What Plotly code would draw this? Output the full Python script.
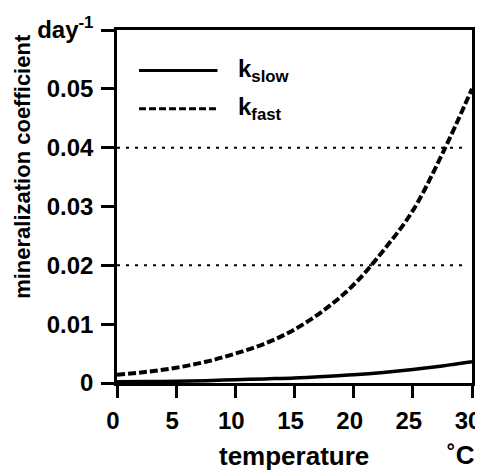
import plotly.graph_objects as go

temperature = [0, 2.5, 5, 7.5, 10, 12.5, 15, 17.5, 20, 22.5, 25, 27.5, 30]
k_fast = [0.0014, 0.0019, 0.0026, 0.0036, 0.0050, 0.0067, 0.0091, 0.0124, 0.0167, 0.0225, 0.0293, 0.0390, 0.0500]
k_slow = [0.0002, 0.00025, 0.0003, 0.0004, 0.00055, 0.0007, 0.00085, 0.0011, 0.0014, 0.0018, 0.0023, 0.0029, 0.0036]

grid_levels = [0.02, 0.04]
grid_x = [0, 29.6]

y_tickvals = [0, 0.01, 0.02, 0.03, 0.04, 0.05, 0.06]
y_ticktext = ["0", "0.01", "0.02", "0.03", "0.04", "0.05", "day<sup>-1</sup>"]
x_tickvals = [0, 5, 10, 15, 20, 25, 30]

FONT = "Liberation Sans, Arial, Helvetica, sans-serif"

fig = go.Figure()

for g in grid_levels:
    fig.add_trace(go.Scatter(x=grid_x, y=[g, g], mode="lines",
                             line=dict(color="black", width=2, dash="3px,6px"),
                             showlegend=False, hoverinfo="skip"))

fig.add_trace(go.Scatter(x=temperature, y=k_slow, mode="lines", name="k<sub>slow</sub>",
                         line=dict(color="black", width=3.5, shape="spline"), showlegend=False))
fig.add_trace(go.Scatter(x=temperature, y=k_fast, mode="lines", name="k<sub>fast</sub>",
                         line=dict(color="black", width=4, dash="8px,3px", shape="spline"), showlegend=False))

# manual legend (line samples + labels)
legend_items = [("k<sub>slow</sub>", "solid", 3, 0.885), ("k<sub>fast</sub>", "7px,3px", 3, 0.777)]
for label, dash, w, yy in legend_items:
    fig.add_shape(type="line", xref="paper", yref="paper", x0=0.062, x1=0.283, y0=yy, y1=yy,
                  line=dict(color="black", width=w, dash=dash))
    fig.add_annotation(xref="paper", yref="paper", x=0.335, y=yy, text=label, showarrow=False,
                       xanchor="left", yanchor="middle",
                       font=dict(family=FONT, size=24, color="black", weight="bold"))

fig.add_annotation(xref="paper", yref="paper", x=-0.265, y=0.615, text="mineralization coefficient",
                   textangle=-90, showarrow=False, xanchor="center", yanchor="middle",
                   font=dict(family=FONT, size=22, color="black", weight="bold"))
fig.add_annotation(xref="paper", yref="paper", x=0.499, y=-0.207, text="temperature",
                   showarrow=False, xanchor="center", yanchor="middle",
                   font=dict(family=FONT, size=26, color="black", weight="bold"))
fig.add_annotation(xref="paper", yref="paper", x=0.97, y=-0.203, text="˚C",
                   showarrow=False, xanchor="center", yanchor="middle",
                   font=dict(family=FONT, size=26, color="black", weight="bold"))

# page body has an 8px margin, so figure is sized/offset to compensate
fig.update_layout(
    width=475, height=462,
    margin=dict(l=109, r=11, t=22, b=87, autoexpand=False),
    paper_bgcolor="white", plot_bgcolor="white",
    font=dict(family=FONT, size=24, color="black", weight="bold"),
    showlegend=False,
)
fig.update_xaxes(range=[0, 30], tickvals=x_tickvals, ticks="outside", ticklen=12, tickwidth=2.5,
                 tickcolor="black", showline=True, linewidth=2.5, linecolor="black", mirror=True,
                 showgrid=False, zeroline=False, automargin=False, ticklabelstandoff=2,
                 ticklabelshift=-4, ticklabeloverflow="allow",
                 tickfont=dict(family=FONT, size=24, color="black", weight="bold"))
fig.update_yaxes(range=[0, 0.06], tickvals=y_tickvals, ticktext=y_ticktext, ticks="outside",
                 ticklen=13, tickwidth=2.5, tickcolor="black", showline=True, linewidth=2.5,
                 linecolor="black", mirror=True, showgrid=False, zeroline=False, automargin=False,
                 ticklabelstandoff=3, ticklabeloverflow="allow",
                 tickfont=dict(family=FONT, size=24, color="black", weight="bold"))

fig.write_html("out.html")
